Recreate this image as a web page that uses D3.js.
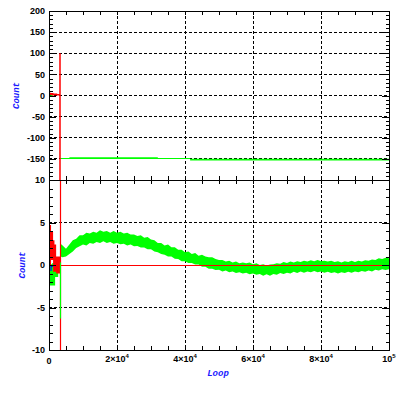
<!DOCTYPE html>
<html><head><meta charset="utf-8">
<script src="https://cdn.jsdelivr.net/npm/d3@7"></script>
<style>
html,body{margin:0;padding:0;background:#fff;}
svg{display:block;}
</style></head>
<body>
<svg id="c" width="399" height="399"></svg>
<script>
// ---------- data ----------
const xTicks = [0, 20000, 40000, 60000, 80000, 100000];
const xTickMain = ["0", "2×10", "4×10", "6×10", "8×10", "10"];
const xTickSup  = ["", "4", "4", "4", "4", "5"];
const yTopTicks = [-150, -100, -50, 0, 50, 100, 150, 200];
const yBotTicks = [-10, -5, 0, 5, 10];
const yTopGrid = [-150, -100, -50, 0, 50, 100, 150];
const yBotGrid = [-5, 5];
const xGrid = [20000, 40000, 60000, 80000];

// top panel
const topRedLoop  = [0, 400, 700, 1100, 1500, 2200, 3235, 3235, 3235];
const topRedVal   = [5, 3, 4, 2, 3, 1.5, 1.5, 100, -300];
const topGreenBlob = [[400, 1, -3], [1100, 1, -3]];
const topGreenThin = [[3380, -150], [41500, -150]];
const topGreenSeg2 = [[6000, -146, -149.5], [32000, -146, -149.5]];
const topGreenSeg4 = [[41500, -149.5, -154], [100000, -149.5, -154]];

// bottom panel
const botRedEarlyLoop  = [0, 600, 1200, 1600, 2100, 2700, 3235];
const botRedEarlyUpper = [4.7, 3.9, 2.9, 2.4, 1.0, 1.0, 1.0];
const botRedEarlyLower = [0.0, 0.6, -0.8, -0.8, -1.0, -1.0, -1.0];
const botRedLine = [[3235, 12], [3235, -12], [3235, 0], [100000, 0]];
const botGreenEarlyLoop  = [0, 900, 1800, 2700, 3235];
const botGreenEarlyUpper = [0.1, 0.2, -0.3, 0.5, 0.5];
const botGreenEarlyLower = [-2.4, -2.4, -1.4, -0.4, -0.4];
const botGreenSpike = [[3380, 0.3], [3380, -6.3]];
const botBlue = [[600, -0.7], [600, -0.15], [1100, -0.15]];

const bandLoop = [3400,4000,5000,6000,7000,8000,9000,10000,11000,12000,13000,14000,15000,16000,17000,18000,19000,20000,21000,22000,23000,24000,25000,26000,27000,28000,29000,30000,31000,32000,33000,34000,35000,36000,37000,38000,39000,40000,41000,42000,43000,44000,45000,46000,47000,48000,49000,50000,51000,52000,53000,54000,55000,56000,57000,58000,59000,60000,61000,62000,63000,64000,65000,66000,67000,68000,69000,70000,71000,72000,73000,74000,75000,76000,77000,78000,79000,80000,81000,82000,83000,84000,85000,86000,87000,88000,89000,90000,91000,92000,93000,94000,95000,96000,97000,98000,99000,100000];
const bandUpper = [2.5,2.3,1.9,2.4,2.9,3.1,3.5,3.5,3.8,3.7,3.9,3.8,4.1,3.9,4.0,3.8,4.0,3.8,3.9,3.7,3.8,3.6,3.6,3.4,3.5,3.2,3.3,3.0,2.9,2.6,2.6,2.3,2.4,2.1,2.1,1.8,1.8,1.5,1.6,1.3,1.4,1.1,1.2,1.0,0.9,0.9,0.7,0.6,0.6,0.4,0.5,0.3,0.4,0.2,0.3,0.2,0.3,0.1,0.2,0.0,0.1,-0.05,0.05,0.1,0.2,0.15,0.35,0.25,0.4,0.3,0.45,0.35,0.5,0.4,0.55,0.45,0.6,0.45,0.5,0.4,0.5,0.35,0.45,0.3,0.45,0.35,0.5,0.35,0.5,0.4,0.55,0.5,0.65,0.6,0.8,0.7,0.85,0.8];
const bandLower = [1.0,0.9,1.0,1.3,1.6,2.0,2.2,2.4,2.3,2.6,2.5,2.7,2.6,2.8,2.6,2.7,2.5,2.6,2.45,2.5,2.3,2.4,2.2,2.25,2.05,2.05,1.85,1.85,1.6,1.5,1.3,1.2,1.0,1.0,0.75,0.7,0.45,0.45,0.25,0.25,0.05,0.05,-0.2,-0.2,-0.45,-0.45,-0.6,-0.55,-0.75,-0.65,-0.85,-0.75,-0.95,-0.85,-1.0,-0.9,-1.1,-1.0,-1.15,-1.05,-1.25,-1.1,-1.25,-1.05,-1.15,-0.95,-1.05,-0.9,-1.0,-0.8,-0.95,-0.75,-0.9,-0.75,-0.85,-0.7,-0.85,-0.75,-0.9,-0.8,-0.95,-0.85,-1.0,-0.85,-0.95,-0.8,-0.9,-0.75,-0.85,-0.7,-0.8,-0.65,-0.75,-0.55,-0.65,-0.5,-0.6,-0.5];

// ---------- drawing ----------
const svg = d3.select("#c");
const L = 49, R = 389, T = 11, M = 180, B = 350;
const x = d3.scaleLinear().domain([0, 100000]).range([L, R]);
const yTop = d3.scaleLinear().domain([-200, 200]).range([M, T]);
const yBot = d3.scaleLinear().domain([-10, 10]).range([B, M]);

const RED = "#ff0000", GREEN = "#00ff00", BLUE = "#0000ff", LBL = "#1a1aff";
const defs = svg.append("defs");
defs.append("clipPath").attr("id", "clipTop").append("rect").attr("x", L).attr("y", T).attr("width", R - L).attr("height", M - T);
defs.append("clipPath").attr("id", "clipBot").append("rect").attr("x", L).attr("y", M).attr("width", R - L).attr("height", B - M);

function grid(g, y, yVals, y0, y1) {
  g.selectAll(".gx").data(xGrid).enter().append("line")
    .attr("x1", d => x(d)).attr("x2", d => x(d)).attr("y1", y0).attr("y2", y1)
    .attr("stroke", "#000").attr("stroke-dasharray", "3,2").attr("shape-rendering", "crispEdges");
  g.selectAll(".gy").data(yVals).enter().append("line")
    .attr("x1", L).attr("x2", R).attr("y1", d => y(d)).attr("y2", d => y(d))
    .attr("stroke", "#000").attr("stroke-dasharray", "3,2").attr("shape-rendering", "crispEdges");
}
grid(svg.append("g"), yTop, yTopGrid, T, M);
grid(svg.append("g"), yBot, yBotGrid, M, B);

const area = (y) => d3.area().x(d => x(d[0])).y0(d => y(d[2])).y1(d => y(d[1]));
const line = (y) => d3.line().x(d => x(d[0])).y(d => y(d[1]));

// top panel marks
const gt = svg.append("g").attr("clip-path", "url(#clipTop)");
gt.append("path").attr("d", area(yTop)(topGreenBlob)).attr("fill", GREEN);
gt.append("path").attr("d", line(yTop)(topGreenThin)).attr("stroke", GREEN).attr("fill", "none").attr("stroke-width", 1).attr("shape-rendering", "crispEdges");
gt.append("path").attr("d", area(yTop)(topGreenSeg2)).attr("fill", GREEN);
gt.append("path").attr("d", area(yTop)(topGreenSeg4)).attr("fill", GREEN);
const topRed = topRedLoop.map((l, i) => [l, topRedVal[i]]);
gt.append("path").attr("d", line(yTop).curve(d3.curveStepAfter)(topRed)).attr("stroke", RED).attr("fill", "none").attr("stroke-width", 1.5);

// bottom panel marks
const gb = svg.append("g").attr("clip-path", "url(#clipBot)");
const band = bandLoop.map((l, i) => [l, bandUpper[i], bandLower[i]]);
gb.append("path").attr("d", area(yBot)(band)).attr("fill", GREEN);
const gEarly = botGreenEarlyLoop.map((l, i) => [l, botGreenEarlyUpper[i], botGreenEarlyLower[i]]);
gb.append("path").attr("d", area(yBot).curve(d3.curveStepAfter)(gEarly)).attr("fill", GREEN);
const rEarly = botRedEarlyLoop.map((l, i) => [l, botRedEarlyUpper[i], botRedEarlyLower[i]]);
gb.append("path").attr("d", area(yBot).curve(d3.curveStepAfter)(rEarly)).attr("fill", RED);
gb.append("g").attr("transform", "translate(0.5,0.5)")
  .append("path").attr("d", line(yBot)(botRedLine)).attr("stroke", RED).attr("fill", "none").attr("stroke-width", 1.2);
gb.append("path").attr("d", line(yBot)(botBlue)).attr("stroke", BLUE).attr("fill", "none").attr("stroke-width", 1.2);
gb.append("path").attr("d", line(yBot)(botGreenSpike)).attr("stroke", GREEN).attr("fill", "none").attr("stroke-width", 1.2);

// frames
svg.append("rect").attr("x", L).attr("y", T).attr("width", R - L).attr("height", B - T)
  .attr("fill", "none").attr("stroke", "#000").attr("shape-rendering", "crispEdges");
svg.append("line").attr("x1", L).attr("x2", R).attr("y1", M).attr("y2", M).attr("stroke", "#000").attr("shape-rendering", "crispEdges");

// ticks via d3 axes
const xMinor = d3.range(0, 100001, 5000);
function tickAxis(axis, tx, ty) {
  const g = svg.append("g").attr("transform", `translate(${tx},${ty})`).call(axis);
  g.select(".domain").remove();
  g.selectAll("text").remove();
  g.selectAll("line").attr("stroke", "#000").attr("shape-rendering", "crispEdges");
}
tickAxis(d3.axisBottom(x).tickValues(xMinor).tickSize(4), 0, T);
tickAxis(d3.axisTop(x).tickValues(xMinor).tickSize(4), 0, M);
tickAxis(d3.axisBottom(x).tickValues(xMinor).tickSize(4), 0, M);
tickAxis(d3.axisTop(x).tickValues(xMinor).tickSize(4), 0, B);
const yTopMinor = d3.range(-200, 201, 10).filter(v => v % 50 !== 0);
const yTopMajor = d3.range(-200, 201, 50);
const yBotMinor = d3.range(-10, 11, 1).filter(v => v % 5 !== 0);
const yBotMajor = d3.range(-10, 11, 5);
tickAxis(d3.axisRight(yTop).tickValues(yTopMinor).tickSize(3.5), L, 0);
tickAxis(d3.axisRight(yTop).tickValues(yTopMajor).tickSize(7), L, 0);
tickAxis(d3.axisLeft(yTop).tickValues(yTopMinor).tickSize(3.5), R, 0);
tickAxis(d3.axisLeft(yTop).tickValues(yTopMajor).tickSize(7), R, 0);
tickAxis(d3.axisRight(yBot).tickValues(yBotMinor).tickSize(3.5), L, 0);
tickAxis(d3.axisRight(yBot).tickValues(yBotMajor).tickSize(7), L, 0);
tickAxis(d3.axisLeft(yBot).tickValues(yBotMinor).tickSize(3.5), R, 0);
tickAxis(d3.axisLeft(yBot).tickValues(yBotMajor).tickSize(7), R, 0);

// tick labels
const tf = "'Liberation Sans', Arial, sans-serif";
svg.append("g").selectAll("text").data(yTopTicks).enter().append("text")
  .attr("x", L - 4).attr("y", d => yTop(d)).attr("dy", "0.35em").attr("text-anchor", "end")
  .attr("font-family", tf).attr("font-weight", "bold").attr("font-size", 9).text(d => d);
svg.append("g").selectAll("text").data(yBotTicks).enter().append("text")
  .attr("x", L - 4).attr("y", d => yBot(d)).attr("dy", "0.35em").attr("text-anchor", "end")
  .attr("font-family", tf).attr("font-weight", "bold").attr("font-size", 9).text(d => d);
const xl = svg.append("g").selectAll("text").data(xTicks).enter().append("text")
  .attr("x", d => x(d)).attr("y", (d, i) => i === 0 ? 364 : 362).attr("text-anchor", "middle")
  .attr("font-family", tf).attr("font-weight", "bold").attr("font-size", 9);
xl.append("tspan").text((d, i) => xTickMain[i]);
xl.append("tspan").attr("dy", -4).attr("font-size", 6).text((d, i) => xTickSup[i]);

// axis titles
const af = "'Liberation Mono', 'DejaVu Sans Mono', monospace";
svg.append("text").attr("transform", `translate(19,${yTop(0)}) rotate(-90)`).attr("text-anchor", "middle")
  .attr("font-family", af).attr("font-weight", "bold").attr("font-style", "italic").attr("font-size", 9)
  .attr("fill", LBL).text("Count");
svg.append("text").attr("transform", `translate(25,${yBot(0)}) rotate(-90)`).attr("text-anchor", "middle")
  .attr("font-family", af).attr("font-weight", "bold").attr("font-style", "italic").attr("font-size", 9)
  .attr("fill", LBL).text("Count");
svg.append("text").attr("x", 218).attr("y", 376).attr("text-anchor", "middle")
  .attr("font-family", af).attr("font-weight", "bold").attr("font-style", "italic").attr("font-size", 9)
  .attr("fill", LBL).text("Loop");
</script>
</body></html>
